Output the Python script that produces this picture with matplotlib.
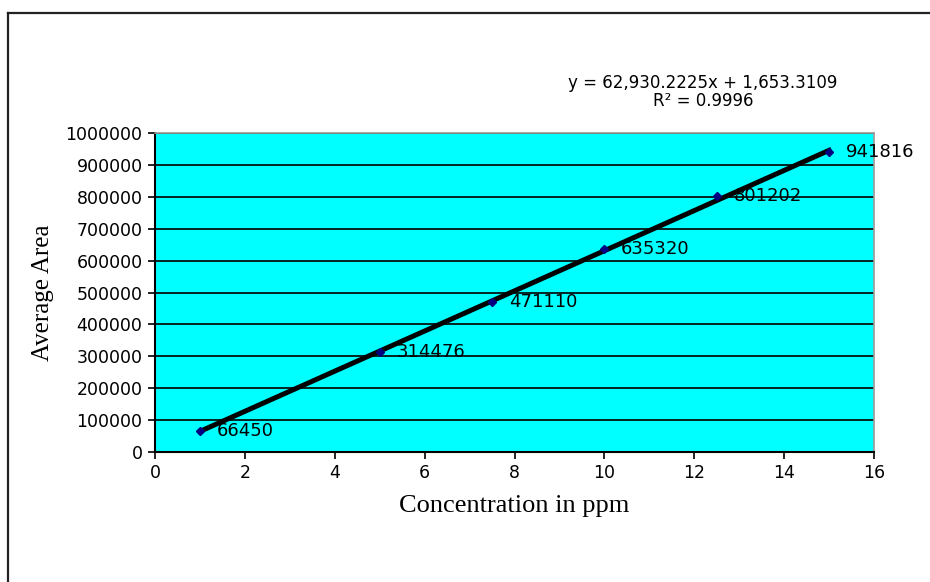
import matplotlib.pyplot as plt
from matplotlib.lines import Line2D

# Calibration data: concentration (ppm) vs average peak area
conc = [1, 5, 7.5, 10, 12.5, 15]
area = [66450, 314476, 471110, 635320, 801202, 941816]

# Linear fit reported for the calibration
slope = 62930.2225
intercept = 1653.3109
r_squared = 0.9996

x_ticks = [0, 2, 4, 6, 8, 10, 12, 14, 16]
y_ticks = [0, 100000, 200000, 300000, 400000, 500000,
           600000, 700000, 800000, 900000, 1000000]

W, H = 930, 582
fig = plt.figure(figsize=(W / 100, H / 100), dpi=100)
ax = fig.add_axes([155 / W, 1 - 452 / H, (874 - 155) / W, (452 - 133) / H])
ax.set_facecolor("#00FFFF")

ax.set_xlim(0, 16)
ax.set_ylim(0, 1000000)
ax.set_xticks(x_ticks)
ax.set_yticks(y_ticks)
ax.set_xticklabels([str(t) for t in x_ticks])
ax.set_yticklabels([str(t) for t in y_ticks])
ax.tick_params(direction="out", length=5, width=1.2, labelsize=12.5, pad=4)

ax.grid(axis="y", color="black", linewidth=1.2)
ax.set_axisbelow(True)
for side in ("left", "bottom"):
    ax.spines[side].set_color("black")
    ax.spines[side].set_linewidth(1.5)
for side in ("top", "right"):
    ax.spines[side].set_color("#999999")
    ax.spines[side].set_linewidth(1.2)

# Trendline over the measured range
fit_x = [conc[0], conc[-1]]
fit_y = [slope * v + intercept for v in fit_x]
ax.plot(fit_x, fit_y, color="black", linewidth=3.6, zorder=3)

ax.plot(conc, area, linestyle="none", marker="D", markersize=4.5,
        color="#000080", zorder=4)

for cx, a in zip(conc, area):
    ax.annotate(str(a), (cx, a), xytext=(12, 0), textcoords="offset points",
                va="center", ha="left", fontsize=13, zorder=5,
                annotation_clip=False)

ax.text(0.756, 1 - 92 / H, f"y = {slope:,.4f}x + {intercept:,.4f}\nR² = {r_squared}",
        transform=fig.transFigure, ha="center", va="center", fontsize=12,
        linespacing=1.02)

ax.set_xlabel("Concentration in ppm", family="Liberation Serif", fontsize=19,
              labelpad=9)
ax.set_ylabel("Average Area", family="Liberation Serif", fontsize=18,
              labelpad=8)

# Outer chart frame
fig.add_artist(Line2D([8 / W, 8 / W], [0, 1 - 13 / H], color="#222222",
                      linewidth=1.6, transform=fig.transFigure))
fig.add_artist(Line2D([8 / W, 1], [1 - 13 / H, 1 - 13 / H], color="#222222",
                      linewidth=1.6, transform=fig.transFigure))

fig.savefig("out.png", dpi=100)
